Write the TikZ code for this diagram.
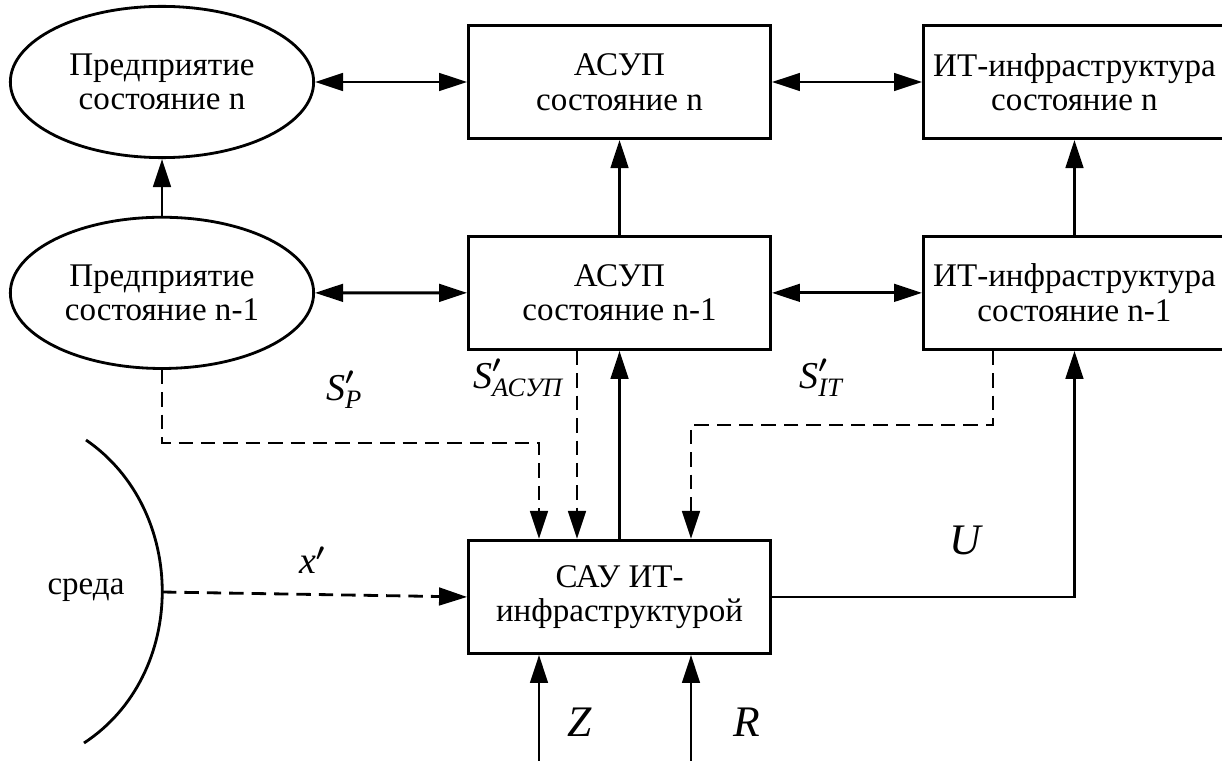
\documentclass[tikz,border=0pt]{standalone}
\usepackage{amsmath}
\usepackage{fontspec}
\setmainfont{Liberation Serif}
\usetikzlibrary{positioning,shapes,arrows.meta}

\newcommand\sgnl[2]{$\textit{#1}^{\boldsymbol{\prime}}_{\textit{#2}}$}

\tikzset{
  block/.style={draw, line width=2pt, minimum width=7.55cm, minimum height=2.83cm, inner sep=0pt, align=center},
  entity/.style={draw, ellipse, line width=2pt, minimum width=7.58cm, minimum height=3.78cm, inner sep=0pt, align=center},
  arr/.style={line width=2pt, -{Triangle[length=0.7cm, width=0.44cm]}},
  dbl/.style={line width=2pt, {Triangle[length=0.7cm, width=0.44cm]}-{Triangle[length=0.7cm, width=0.44cm]}},
  dsh/.style={dash pattern=on 0.36cm off 0.2cm},
  lbl/.style={font=\fontsize{27pt}{29pt}\selectfont},
  biglbl/.style={font=\fontsize{31pt}{33pt}\selectfont}
}

\begin{document}
\begin{tikzpicture}[x=0.025cm, y=-0.025cm, font=\fontsize{23.5pt}{24.5pt}\selectfont]
    \useasboundingbox (0,0) rectangle (1222,761);

    % upper row: state n
    \node (ent) [entity] at (162,82) {Предприятие\\состояние n};
    \node (asup) [block, right=3.8cm of ent] {АСУП\\состояние n};
    \node (itn) [block, right=3.75cm of asup] {ИТ-инфраструктура\\состояние n};

    % middle row: state n-1
    \node (ent1) [entity, below=1.42cm of ent] {Предприятие\\состояние n-1};
    \node (asup1) [block, below=2.37cm of asup] {АСУП\\состояние n-1};
    \node (it1) [block, below=2.37cm of itn] {ИТ-инфраструктура\\состояние n-1};

    % control system
    \node (sau) [block, below=4.7cm of asup1] {САУ ИТ-\\инфраструктурой};

    % environment
    \draw[line width=2pt] (86,440) .. controls (188,510) and (188,675) .. (84,743);
    \coordinate (env) at (162,592);
    \node (sreda) at (86,590) {среда};

    % free ends and bends
    \coordinate (zin) at (539,761);
    \coordinate (rin) at (691,761);
    \coordinate (pbend) at (539,443);
    \coordinate (acx) at (577,0);
    \coordinate (itx) at (993,0);
    \coordinate (ibend) at (691,425);

    \draw[arr] (ent1) -- (ent);
    \draw[dbl] (ent) -- (asup);
    \draw[dbl] (asup) -- (itn);
    \draw[dbl] (ent1) -- (asup1);
    \draw[dbl] (asup1) -- (it1);
    \draw[arr] (asup1) -- (asup);
    \draw[arr] (it1) -- (itn);
    \draw[arr] (sau) -- (asup1);
    \draw[arr] (sau.east) -| (it1.south);
    \draw[arr] (zin) -- (zin |- sau.south);
    \draw[arr] (rin) -- (rin |- sau.south);

    % state feedback (dashed)
    \draw[arr, dsh] (ent1.south) |- (pbend) -- (pbend |- sau.north);
    \draw[arr, dsh] (asup1.south -| acx) -- (sau.north -| acx);
    \draw[arr, dsh] (it1.south -| itx) |- (ibend) -- (ibend |- sau.north);
    \draw[arr, dsh] (env) -- (sau.west);

    % signal labels
    \node (sp) [lbl] at (344,390) {\sgnl{S}{P}};
    \node (sa) [lbl] at (518,378) {\sgnl{S}{АСУП}};
    \node (si) [lbl] at (821,378) {\sgnl{S}{IT}};
    \node (xs) [lbl] at (312,560) {$\textit{x}^{\boldsymbol{\prime}}$};
    \node (u) [biglbl] at (966,540) {\textit{U}};
    \node (z) [biglbl] at (580,722) {\textit{Z}};
    \node (r) [biglbl] at (747,722) {\textit{R}};
\end{tikzpicture}
\end{document}
